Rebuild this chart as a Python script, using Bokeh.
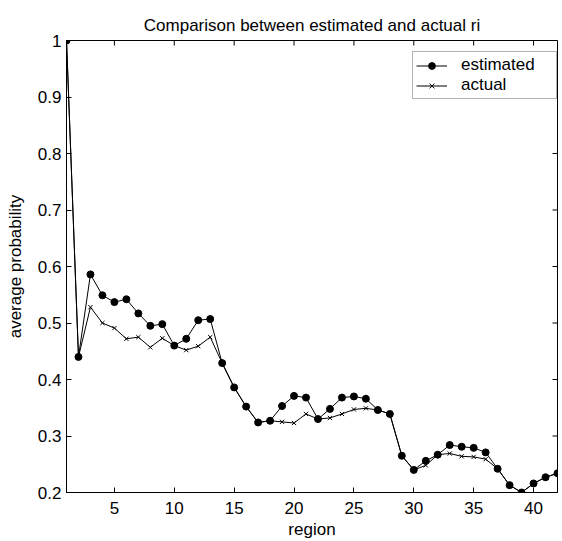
import math
from bokeh.plotting import figure
from bokeh.models import Range1d, FixedTicker
from bokeh.embed import file_html
from bokeh.resources import INLINE

# Average probability per region: estimated vs actual ri
regions = list(range(1, 43))
estimated = [1.0, 0.44, 0.586, 0.549, 0.537, 0.542, 0.517, 0.495, 0.498, 0.460,
             0.472, 0.505, 0.507, 0.429, 0.386, 0.352, 0.324, 0.327, 0.353, 0.371,
             0.368, 0.330, 0.348, 0.368, 0.370, 0.366, 0.346, 0.339, 0.265, 0.240,
             0.256, 0.267, 0.284, 0.281, 0.279, 0.271, 0.242, 0.213, 0.200, 0.216,
             0.227, 0.234]
actual = [1.0, 0.44, 0.528, 0.500, 0.491, 0.472, 0.475, 0.457, 0.473, 0.460,
          0.452, 0.459, 0.475, 0.429, 0.386, 0.352, 0.324, 0.327, 0.325, 0.323,
          0.339, 0.330, 0.332, 0.339, 0.347, 0.349, 0.346, 0.339, 0.265, 0.240,
          0.248, 0.267, 0.269, 0.264, 0.263, 0.259, 0.242, 0.213, 0.200, 0.216,
          0.227, 0.234]
x_ticks = [5, 10, 15, 20, 25, 30, 35, 40]
y_ticks = [0.2, 0.3, 0.4, 0.5, 0.6, 0.7, 0.8, 0.9, 1.0]
y_tick_labels = {0.2: "0.2", 0.3: "0.3", 0.4: "0.4", 0.5: "0.5", 0.6: "0.6",
                 0.7: "0.7", 0.8: "0.8", 0.9: "0.9", 1.0: "1"}
x_min, x_max = 1, 42
y_min, y_max = 0.2, 1.0

FONT = "Liberation Sans"

p = figure(width=562, height=541, output_backend="svg", toolbar_location=None,
           x_range=Range1d(x_min, x_max), y_range=Range1d(y_min, y_max),
           title="Comparison between estimated and actual ri",
           min_border_left=66, min_border_right=5, min_border_top=40,
           min_border_bottom=48)

p.background_fill_color = "white"
p.border_fill_color = "white"
p.outline_line_color = "black"
p.outline_line_width = 1
p.xgrid.visible = False
p.ygrid.visible = False

p.title.align = "center"
p.title.text_font = FONT
p.title.text_font_size = "17px"
p.title.text_font_style = "normal"
p.title.text_color = "black"
p.title.standoff = 11

def style_axis(ax, ticks):
    ax.ticker = FixedTicker(ticks=ticks)
    ax.major_tick_in = 5
    ax.major_tick_out = 0
    ax.minor_tick_line_color = None
    ax.axis_line_color = "black"
    ax.major_tick_line_color = "black"
    ax.major_label_text_font = FONT
    ax.major_label_text_color = "black"
    ax.major_label_text_font_size = "17px"
    ax.axis_label_text_font = FONT
    ax.axis_label_text_font_style = "normal"
    ax.axis_label_text_color = "black"
    ax.axis_label_text_font_size = "17px"

xa = p.xaxis[0]
style_axis(xa, x_ticks)
xa.axis_label = "region"
xa.major_label_standoff = 9
xa.axis_label_standoff = 3

ya = p.yaxis[0]
style_axis(ya, y_ticks)
ya.axis_label = "average probability"
ya.major_label_overrides = y_tick_labels
ya.major_label_standoff = 5
ya.axis_label_standoff = 10

# inward tick marks along the top and right edges of the box
p.ray(x=x_ticks, y=[y_max] * len(x_ticks), length=5, length_units="screen",
      angle=-math.pi / 2, line_color="black", line_width=1)
p.ray(x=[x_max] * len(y_ticks), y=y_ticks, length=5, length_units="screen",
      angle=math.pi, line_color="black", line_width=1)

# actual series: thin line with x markers
p.line(regions, actual, line_color="black", line_width=1, legend_label="actual")
p.scatter(regions, actual, marker="x", size=6, line_color="black", line_width=1,
          legend_label="actual")

# estimated series: thin line with filled dots
p.line(regions, estimated, line_color="black", line_width=1, legend_label="estimated")
p.scatter(regions, estimated, marker="circle", size=7, fill_color="black",
          line_color="black", legend_label="estimated")

leg = p.legend[0]
# estimated first, then actual
leg.items = [leg.items[1], leg.items[0]]
leg.location = (346, 393)
leg.label_text_font = FONT
leg.label_text_font_size = "17px"
leg.label_text_color = "black"
leg.label_height = 17
leg.glyph_height = 17
leg.glyph_width = 31
leg.label_standoff = 14
leg.label_width = 92
leg.spacing = 0
leg.padding = 3
leg.margin = 0
leg.border_line_color = "#666666"
leg.border_line_width = 1
leg.background_fill_color = "white"
leg.background_fill_alpha = 1

open("out.html", "w").write(file_html(p, INLINE))
